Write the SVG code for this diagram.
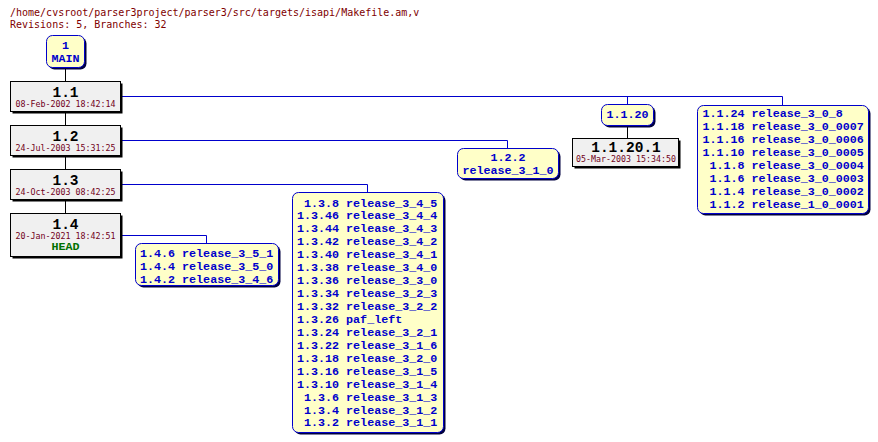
<svg xmlns="http://www.w3.org/2000/svg" width="878" height="442" viewBox="0 0 878 442">
<style>
.hdr{font-family:"DejaVu Sans Mono","Liberation Mono",monospace;font-size:10px;fill:#800000}
.rev rect.b{fill:#f0f0f0;stroke:#000;stroke-width:1}
.sh{fill:#000}
.tag rect.b{fill:#ffffc8;stroke:#0000cc;stroke-width:1}
.tsh{fill:#000040}
.rn{font-family:"Liberation Mono","DejaVu Sans Mono",monospace;font-size:14.5px;font-weight:bold;fill:#000;text-anchor:middle}
.dt{font-family:"DejaVu Sans Mono","Liberation Mono",monospace;font-size:8.3px;fill:#700020;text-anchor:middle}
.hd{font-family:"Liberation Mono","DejaVu Sans Mono",monospace;font-size:11.7px;font-weight:bold;fill:#007000;text-anchor:middle}
.tt{font-family:"Liberation Mono","DejaVu Sans Mono",monospace;font-size:11.7px;font-weight:bold;fill:#0000cc;white-space:pre}
.tc{text-anchor:middle}
.bl{fill:none;stroke:#0000cc;stroke-width:1}
.tk{fill:none;stroke:#000;stroke-width:1}
</style>
<text class="hdr" x="10" y="16">/home/cvsroot/parser3project/parser3/src/targets/isapi/Makefile.am,v</text>
<text class="hdr" x="10" y="28">Revisions: 5, Branches: 32</text>
<g id="connectors">
<path class="tk" d="M65.5,68 V82 M65.5,112 V126 M65.5,156 V170 M65.5,200 V214 M627.5,126 V138"/>
<path class="bl" d="M121,96.5 H782.5 V105.5 M627.5,96.5 V104.5 M121,140.5 H507.5 V148.5 M121,184.5 H367.5 V192.5 M121,235.5 H206.5 V243.5"/>
</g>
<g id="main" class="tag">
<rect class="tsh" x="48.5" y="37.5" width="38" height="32" rx="6"/>
<rect class="b" x="46.5" y="35.5" width="38" height="32" rx="6"/>
<text class="tt tc" x="65.5" y="48.5">1</text>
<text class="tt tc" x="65.5" y="61.5">MAIN</text>
</g>
<g id="r1.1" class="rev">
<rect class="sh" x="12.5" y="83.5" width="110" height="30"/>
<rect class="b" x="10.5" y="81.5" width="110" height="30"/>
<text class="rn" x="65.5" y="97.3">1.1</text>
<text class="dt" x="65.5" y="106.9">08-Feb-2002 18:42:14</text>
</g>
<g id="r1.2" class="rev">
<rect class="sh" x="12.5" y="127.5" width="110" height="30"/>
<rect class="b" x="10.5" y="125.5" width="110" height="30"/>
<text class="rn" x="65.5" y="141.3">1.2</text>
<text class="dt" x="65.5" y="150.9">24-Jul-2003 15:31:25</text>
</g>
<g id="r1.3" class="rev">
<rect class="sh" x="12.5" y="171.5" width="110" height="30"/>
<rect class="b" x="10.5" y="169.5" width="110" height="30"/>
<text class="rn" x="65.5" y="185.3">1.3</text>
<text class="dt" x="65.5" y="194.9">24-Oct-2003 08:42:25</text>
</g>
<g id="r1.4" class="rev">
<rect class="sh" x="12.5" y="215.5" width="110" height="43"/>
<rect class="b" x="10.5" y="213.5" width="110" height="43"/>
<text class="rn" x="65.5" y="229.2">1.4</text>
<text class="dt" x="65.5" y="238.8">20-Jan-2021 18:42:51</text>
<text class="hd" x="65.5" y="250.3">HEAD</text>
</g>
<g id="r1.1.20.1" class="rev">
<rect class="sh" x="574.5" y="140.5" width="106" height="28"/>
<rect class="b" x="572.5" y="138.5" width="106" height="28"/>
<text class="rn" x="626" y="152">1.1.20.1</text>
<text class="dt" x="626" y="161.8">05-Mar-2003 15:34:50</text>
</g>
<g id="b1.1.20" class="tag">
<rect class="tsh" x="603.5" y="106.5" width="52" height="21" rx="6"/>
<rect class="b" x="601.5" y="104.5" width="52" height="21" rx="6"/>
<text class="tt tc" x="627.5" y="118">1.1.20</text>
</g>
<g id="b1.2.2" class="tag">
<rect class="tsh" x="459.5" y="150.5" width="101" height="30" rx="6"/>
<rect class="b" x="457.5" y="148.5" width="101" height="30" rx="6"/>
<text class="tt tc" x="508" y="161">1.2.2</text>
<text class="tt tc" x="508" y="174.3">release_3_1_0</text>
</g>
<g id="t1.1" class="tag">
<rect class="tsh" x="699.5" y="107.5" width="171" height="108" rx="6"/>
<rect class="b" x="697.5" y="105.5" width="171" height="108" rx="6"/>
<text class="tt" x="702.5" y="117"><tspan x="702.5">1.1.24 release_3_0_8</tspan><tspan x="702.5" dy="13">1.1.18 release_3_0_0007</tspan><tspan x="702.5" dy="13">1.1.16 release_3_0_0006</tspan><tspan x="702.5" dy="13">1.1.10 release_3_0_0005</tspan><tspan x="702.5" dy="13"> 1.1.8 release_3_0_0004</tspan><tspan x="702.5" dy="13"> 1.1.6 release_3_0_0003</tspan><tspan x="702.5" dy="13"> 1.1.4 release_3_0_0002</tspan><tspan x="702.5" dy="13"> 1.1.2 release_1_0_0001</tspan></text>
</g>
<g id="t1.4" class="tag">
<rect class="tsh" x="137.5" y="245.5" width="143" height="42" rx="6"/>
<rect class="b" x="135.5" y="243.5" width="143" height="42" rx="6"/>
<text class="tt" x="140" y="257"><tspan x="140">1.4.6 release_3_5_1</tspan><tspan x="140" dy="13">1.4.4 release_3_5_0</tspan><tspan x="140" dy="13">1.4.2 release_3_4_6</tspan></text>
</g>
<g id="t1.3" class="tag">
<rect class="tsh" x="294.5" y="194.5" width="151" height="240" rx="6"/>
<rect class="b" x="292.5" y="192.5" width="151" height="240" rx="6"/>
<text class="tt" x="297" y="206.5"><tspan x="297"> 1.3.8 release_3_4_5</tspan><tspan x="297" dy="12.94">1.3.46 release_3_4_4</tspan><tspan x="297" dy="12.94">1.3.44 release_3_4_3</tspan><tspan x="297" dy="12.94">1.3.42 release_3_4_2</tspan><tspan x="297" dy="12.94">1.3.40 release_3_4_1</tspan><tspan x="297" dy="12.94">1.3.38 release_3_4_0</tspan><tspan x="297" dy="12.94">1.3.36 release_3_3_0</tspan><tspan x="297" dy="12.94">1.3.34 release_3_2_3</tspan><tspan x="297" dy="12.94">1.3.32 release_3_2_2</tspan><tspan x="297" dy="12.94">1.3.26 paf_left</tspan><tspan x="297" dy="12.94">1.3.24 release_3_2_1</tspan><tspan x="297" dy="12.94">1.3.22 release_3_1_6</tspan><tspan x="297" dy="12.94">1.3.18 release_3_2_0</tspan><tspan x="297" dy="12.94">1.3.16 release_3_1_5</tspan><tspan x="297" dy="12.94">1.3.10 release_3_1_4</tspan><tspan x="297" dy="12.94"> 1.3.6 release_3_1_3</tspan><tspan x="297" dy="12.94"> 1.3.4 release_3_1_2</tspan><tspan x="297" dy="12.94"> 1.3.2 release_3_1_1</tspan></text>
</g>
</svg>
